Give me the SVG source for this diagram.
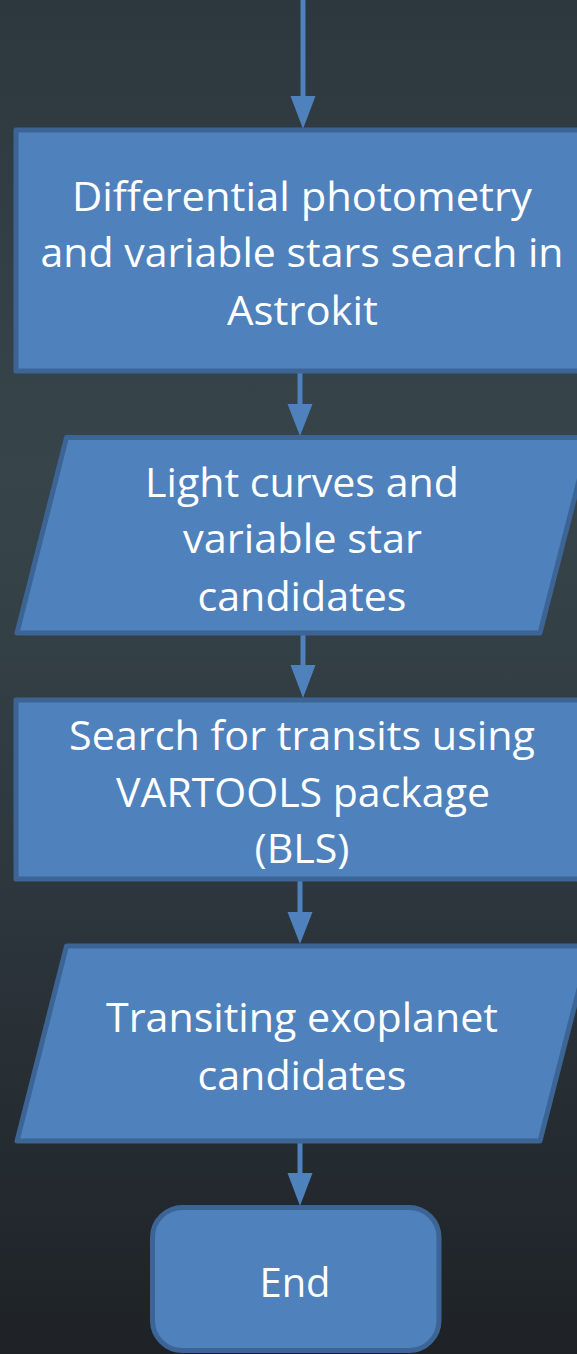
<svg xmlns="http://www.w3.org/2000/svg" width="577" height="1354" viewBox="0 0 577 1354">
  <defs>
    <linearGradient id="bg" x1="0" y1="0" x2="0" y2="1">
      <stop offset="0" stop-color="#2d383e"/>
      <stop offset="0.35" stop-color="#37454b"/>
      <stop offset="0.6" stop-color="#2f3a40"/>
      <stop offset="1" stop-color="#1e2227"/>
    </linearGradient>
    <style>
      .shape { fill: #4f81bd; stroke: #3c6595; stroke-width: 5; stroke-linejoin: round; }
      .label { font-family: "Open Sans", "Noto Sans", "Liberation Sans", sans-serif; font-size: 41px; fill: #ffffff; text-anchor: middle; }
      .wire { stroke: #4f81bd; stroke-width: 5; fill: none; }
      .head { fill: #4f81bd; }
    </style>
  </defs>

  <rect x="0" y="0" width="577" height="1354" fill="url(#bg)"/>

  <!-- connectors -->
  <g id="connectors">
    <line class="wire" x1="303" y1="-5" x2="303" y2="100"/>
    <polygon class="head" points="290.5,96 315.5,96 303,129"/>

    <line class="wire" x1="300" y1="372" x2="300" y2="408"/>
    <polygon class="head" points="287.5,404 312.5,404 300,436"/>

    <line class="wire" x1="303" y1="634" x2="303" y2="669"/>
    <polygon class="head" points="290.5,665 315.5,665 303,698"/>

    <line class="wire" x1="300" y1="880" x2="300" y2="916"/>
    <polygon class="head" points="287.5,912 312.5,912 300,944"/>

    <line class="wire" x1="300" y1="1142" x2="300" y2="1177"/>
    <polygon class="head" points="287.5,1173 312.5,1173 300,1206"/>
  </g>

  <!-- process: photometry -->
  <g id="photometry">
    <rect class="shape" x="16" y="130" width="574" height="241"/>
    <text class="label" x="302" y="211" textLength="460" lengthAdjust="spacingAndGlyphs">Differential photometry</text>
    <text class="label" x="302" y="267" textLength="523" lengthAdjust="spacingAndGlyphs">and variable stars search in</text>
    <text class="label" x="302.5" y="325" textLength="151" lengthAdjust="spacingAndGlyphs">Astrokit</text>
  </g>

  <!-- data: light curves -->
  <g id="light-curves">
    <polygon class="shape" points="66.5,437.5 590,437.5 540,633 17,633"/>
    <text class="label" x="302" y="497" textLength="314" lengthAdjust="spacingAndGlyphs">Light curves and</text>
    <text class="label" x="302.5" y="553" textLength="239" lengthAdjust="spacingAndGlyphs">variable star</text>
    <text class="label" x="302" y="611" textLength="209" lengthAdjust="spacingAndGlyphs">candidates</text>
  </g>

  <!-- process: transit search -->
  <g id="transit-search">
    <rect class="shape" x="16" y="700" width="574" height="179"/>
    <text class="label" x="302" y="750" textLength="466" lengthAdjust="spacingAndGlyphs">Search for transits using</text>
    <text class="label" x="303" y="807" textLength="374" lengthAdjust="spacingAndGlyphs">VARTOOLS package</text>
    <text class="label" x="302" y="863" textLength="95" lengthAdjust="spacingAndGlyphs">(BLS)</text>
  </g>

  <!-- data: candidates -->
  <g id="candidates">
    <polygon class="shape" points="66.5,946 590,946 540,1141 17,1141"/>
    <text class="label" x="302" y="1032" textLength="392" lengthAdjust="spacingAndGlyphs">Transiting exoplanet</text>
    <text class="label" x="302" y="1090" textLength="209" lengthAdjust="spacingAndGlyphs">candidates</text>
  </g>

  <!-- terminator: end -->
  <g id="end">
    <rect class="shape" x="152.5" y="1207.5" width="286.5" height="143" rx="30" ry="30"/>
    <text class="label" x="295" y="1297" textLength="71" lengthAdjust="spacingAndGlyphs">End</text>
  </g>
</svg>
